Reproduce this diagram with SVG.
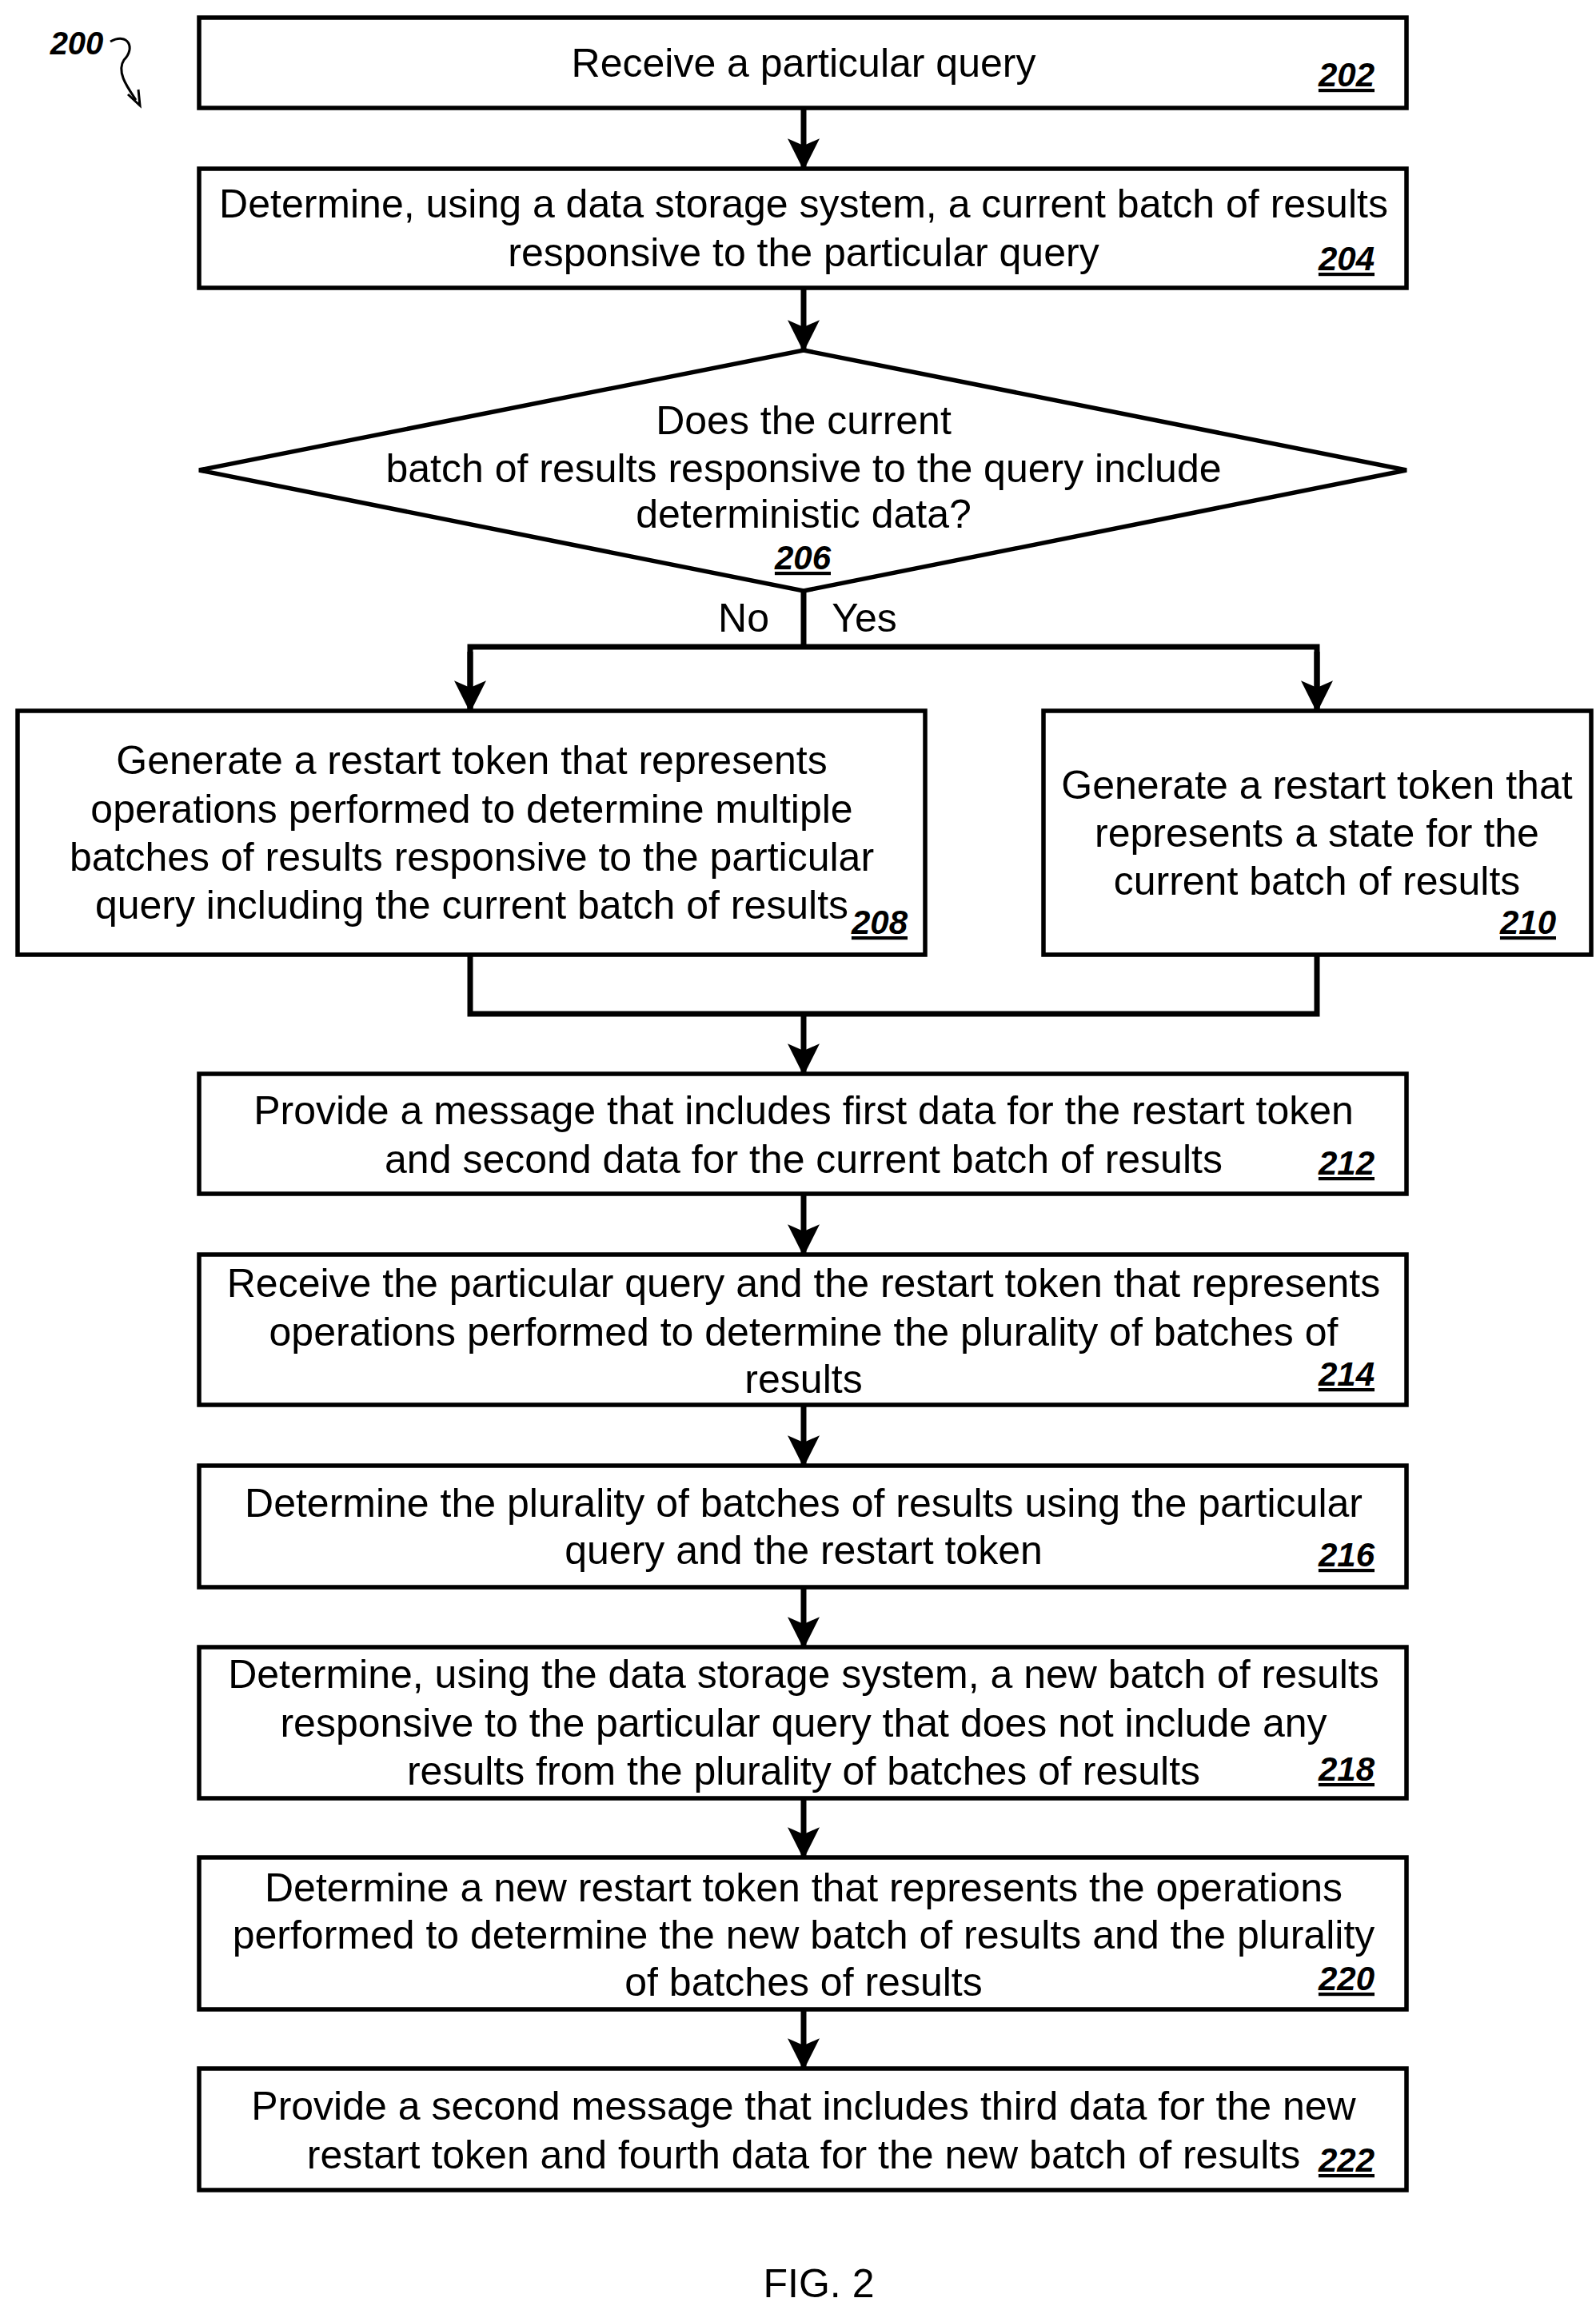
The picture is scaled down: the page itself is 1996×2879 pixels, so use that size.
<svg xmlns="http://www.w3.org/2000/svg" width="1996" height="2879" viewBox="0 0 1996 2879">
<style>
.b{fill:#fff;stroke:#000;stroke-width:5.5}
.t{font-family:"Liberation Sans",Arial,sans-serif;font-size:50px;text-anchor:middle;fill:#000}
.n{font-family:"Liberation Sans",Arial,sans-serif;font-size:42px;font-weight:bold;font-style:italic;text-decoration:underline;text-anchor:end;fill:#000}
.c{fill:none;stroke:#000;stroke-width:7}
</style>
<defs>
<marker id="a" markerUnits="userSpaceOnUse" markerWidth="40" markerHeight="40" refX="18" refY="34" orient="0" viewBox="0 0 36 36"><path d="M0,0 L18,8 L36,0 L18,36 Z" fill="#000"/></marker>
</defs>
<rect width="1996" height="2879" fill="#fff"/>
<g id="label200">
<text x="96" y="68" font-family="Liberation Sans,Arial,sans-serif" font-size="40" font-weight="bold" font-style="italic" text-anchor="middle">200</text>
<path d="M138,52 C160,40 170,60 155,75 C145,90 160,110 170,125" fill="none" stroke="#000" stroke-width="3"/>
<path d="M160,118 L175,132 L173,112" fill="none" stroke="#000" stroke-width="3"/>
</g>
<g id="connectors">
<line class="c" x1="1005" y1="135" x2="1005" y2="211" marker-end="url(#a)"/>
<line class="c" x1="1005" y1="360" x2="1005" y2="438" marker-end="url(#a)"/>
<polyline class="c" points="1005,739 1005,809"/>
<polyline class="c" points="588,889 588,809 1647,809 1647,889"/>
<line class="c" x1="588" y1="815" x2="588" y2="889" marker-end="url(#a)"/>
<line class="c" x1="1647" y1="815" x2="1647" y2="889" marker-end="url(#a)"/>
<polyline class="c" points="588,1194 588,1268 1647,1268 1647,1194"/>
<line class="c" x1="1005" y1="1268" x2="1005" y2="1343" marker-end="url(#a)"/>
<line class="c" x1="1005" y1="1493" x2="1005" y2="1569" marker-end="url(#a)"/>
<line class="c" x1="1005" y1="1757" x2="1005" y2="1833" marker-end="url(#a)"/>
<line class="c" x1="1005" y1="1985" x2="1005" y2="2060" marker-end="url(#a)"/>
<line class="c" x1="1005" y1="2249" x2="1005" y2="2323" marker-end="url(#a)"/>
<line class="c" x1="1005" y1="2513" x2="1005" y2="2587" marker-end="url(#a)"/>
<text class="t" x="930" y="790" font-size="38">No</text>
<text class="t" x="1081" y="790" font-size="38">Yes</text>
</g>
<g id="n202"><rect class="b" x="249" y="22" width="1510" height="113"/>
<text class="t" x="1005" y="96">Receive a particular query</text><text class="n" x="1719" y="108">202</text></g>
<g id="n204"><rect class="b" x="249" y="211" width="1510" height="149"/>
<text class="t" x="1005" y="272">Determine, using a data storage system, a current batch of results</text>
<text class="t" x="1005" y="333">responsive to the particular query</text><text class="n" x="1719" y="338">204</text></g>
<g id="n206"><polygon class="b" points="1005,438 1759,588 1005,739 249,588"/>
<text class="t" x="1005" y="543">Does the current</text>
<text class="t" x="1005" y="603">batch of results responsive to the query include</text>
<text class="t" x="1005" y="660">deterministic data?</text>
<text class="n" x="1039" y="712">206</text></g>
<g id="n208"><rect class="b" x="22" y="889" width="1135" height="305"/>
<text class="t" x="590" y="968">Generate a restart token that represents</text>
<text class="t" x="590" y="1029">operations performed to determine multiple</text>
<text class="t" x="590" y="1089">batches of results responsive to the particular</text>
<text class="t" x="590" y="1149">query including the current batch of results</text>
<text class="n" x="1135" y="1168">208</text></g>
<g id="n210"><rect class="b" x="1305" y="889" width="685" height="305"/>
<text class="t" x="1647" y="999">Generate a restart token that</text>
<text class="t" x="1647" y="1059">represents a state for the</text>
<text class="t" x="1647" y="1119">current batch of results</text>
<text class="n" x="1946" y="1168">210</text></g>
<g id="n212"><rect class="b" x="249" y="1343" width="1510" height="150"/>
<text class="t" x="1005" y="1406">Provide a message that includes first data for the restart token</text>
<text class="t" x="1005" y="1467">and second data for the current batch of results</text><text class="n" x="1719" y="1469">212</text></g>
<g id="n214"><rect class="b" x="249" y="1569" width="1510" height="188"/>
<text class="t" x="1005" y="1622">Receive the particular query and the restart token that represents</text>
<text class="t" x="1005" y="1683">operations performed to determine the plurality of batches of</text>
<text class="t" x="1005" y="1742">results</text><text class="n" x="1719" y="1733">214</text></g>
<g id="n216"><rect class="b" x="249" y="1833" width="1510" height="152"/>
<text class="t" x="1005" y="1897">Determine the plurality of batches of results using the particular</text>
<text class="t" x="1005" y="1956">query and the restart token</text><text class="n" x="1719" y="1959">216</text></g>
<g id="n218"><rect class="b" x="249" y="2060" width="1510" height="189"/>
<text class="t" x="1005" y="2111">Determine, using the data storage system, a new batch of results</text>
<text class="t" x="1005" y="2172">responsive to the particular query that does not include any</text>
<text class="t" x="1005" y="2232">results from the plurality of batches of results</text><text class="n" x="1719" y="2227">218</text></g>
<g id="n220"><rect class="b" x="249" y="2323" width="1510" height="190"/>
<text class="t" x="1005" y="2378">Determine a new restart token that represents the operations</text>
<text class="t" x="1005" y="2437">performed to determine the new batch of results and the plurality</text>
<text class="t" x="1005" y="2496">of batches of results</text><text class="n" x="1719" y="2489">220</text></g>
<g id="n222"><rect class="b" x="249" y="2587" width="1510" height="152"/>
<text class="t" x="1005" y="2651">Provide a second message that includes third data for the new</text>
<text class="t" x="1005" y="2712">restart token and fourth data for the new batch of results</text><text class="n" x="1719" y="2716">222</text></g>
<text class="t" x="1024" y="2873" font-size="62">FIG. 2</text>
</svg>
